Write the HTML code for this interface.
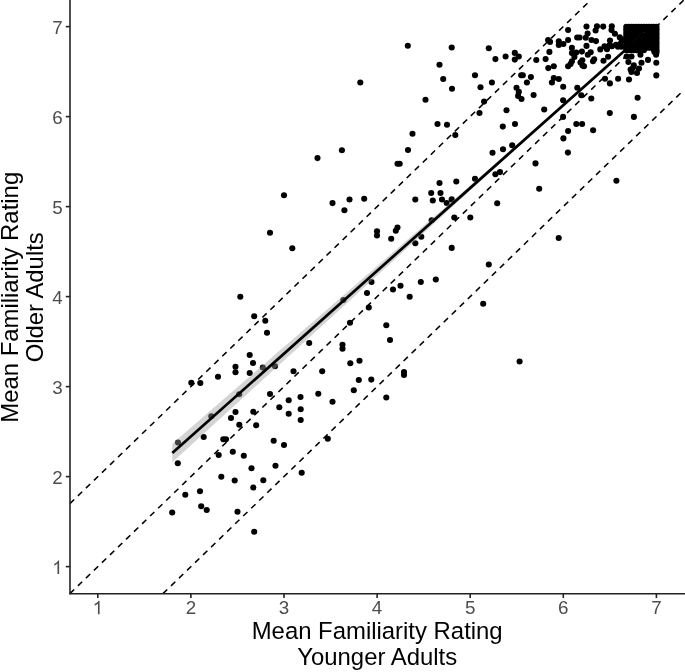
<!DOCTYPE html>
<html><head><meta charset="utf-8"><title>Scatter</title>
<style>
html,body{margin:0;padding:0;background:#fff;}
body{width:685px;height:672px;overflow:hidden;font-family:"Liberation Sans",sans-serif;}
svg{display:block;will-change:transform;}
.tk{font-family:"Liberation Sans",sans-serif;font-size:18.8px;fill:#4d4d4d;}
.tt{font-family:"Liberation Sans",sans-serif;font-size:23.9px;fill:#000;}
</style></head><body>
<svg width="685" height="672" viewBox="0 0 685 672">
<rect width="685" height="672" fill="#fff"/>

<g fill="#000">
<circle cx="178.0" cy="442.5" r="3.05"/>
<circle cx="211.3" cy="416.2" r="3.05"/>
<circle cx="177.8" cy="463.3" r="3.05"/>
<circle cx="203.7" cy="437.0" r="3.05"/>
<circle cx="223.3" cy="439.2" r="3.05"/>
<circle cx="226.0" cy="439.2" r="3.05"/>
<circle cx="235.5" cy="412.0" r="3.05"/>
<circle cx="231.0" cy="418.0" r="3.05"/>
<circle cx="253.3" cy="411.7" r="3.05"/>
<circle cx="239.3" cy="424.7" r="3.05"/>
<circle cx="256.2" cy="425.3" r="3.05"/>
<circle cx="218.7" cy="455.0" r="3.05"/>
<circle cx="232.8" cy="451.7" r="3.05"/>
<circle cx="243.8" cy="455.8" r="3.05"/>
<circle cx="251.5" cy="468.3" r="3.05"/>
<circle cx="221.3" cy="476.7" r="3.05"/>
<circle cx="234.7" cy="480.5" r="3.05"/>
<circle cx="253.3" cy="487.5" r="3.05"/>
<circle cx="263.3" cy="480.3" r="3.05"/>
<circle cx="200.0" cy="491.2" r="3.05"/>
<circle cx="185.3" cy="494.7" r="3.05"/>
<circle cx="201.2" cy="506.2" r="3.05"/>
<circle cx="206.7" cy="510.0" r="3.05"/>
<circle cx="172.2" cy="512.5" r="3.05"/>
<circle cx="237.5" cy="511.7" r="3.05"/>
<circle cx="254.2" cy="531.7" r="3.05"/>
<circle cx="270.0" cy="394.0" r="3.05"/>
<circle cx="279.3" cy="407.2" r="3.05"/>
<circle cx="288.7" cy="400.2" r="3.05"/>
<circle cx="288.7" cy="413.8" r="3.05"/>
<circle cx="300.5" cy="397.0" r="3.05"/>
<circle cx="300.7" cy="409.3" r="3.05"/>
<circle cx="300.7" cy="420.0" r="3.05"/>
<circle cx="318.3" cy="393.8" r="3.05"/>
<circle cx="332.5" cy="401.8" r="3.05"/>
<circle cx="353.8" cy="390.2" r="3.05"/>
<circle cx="358.8" cy="380.0" r="3.05"/>
<circle cx="327.8" cy="438.8" r="3.05"/>
<circle cx="273.7" cy="440.7" r="3.05"/>
<circle cx="284.0" cy="445.0" r="3.05"/>
<circle cx="275.5" cy="465.8" r="3.05"/>
<circle cx="301.7" cy="472.8" r="3.05"/>
<circle cx="240.3" cy="296.7" r="3.05"/>
<circle cx="254.2" cy="316.3" r="3.05"/>
<circle cx="265.3" cy="320.8" r="3.05"/>
<circle cx="267.0" cy="332.8" r="3.05"/>
<circle cx="249.7" cy="355.0" r="3.05"/>
<circle cx="253.0" cy="363.0" r="3.05"/>
<circle cx="235.5" cy="366.7" r="3.05"/>
<circle cx="235.5" cy="372.2" r="3.05"/>
<circle cx="249.7" cy="373.0" r="3.05"/>
<circle cx="262.8" cy="367.5" r="3.05"/>
<circle cx="275.0" cy="366.3" r="3.05"/>
<circle cx="218.0" cy="376.7" r="3.05"/>
<circle cx="200.3" cy="383.0" r="3.05"/>
<circle cx="191.3" cy="382.8" r="3.05"/>
<circle cx="293.5" cy="371.3" r="3.05"/>
<circle cx="239.2" cy="394.2" r="3.05"/>
<circle cx="341.9" cy="150.2" r="3.05"/>
<circle cx="317.5" cy="158.1" r="3.05"/>
<circle cx="284.0" cy="195.2" r="3.05"/>
<circle cx="332.5" cy="203.1" r="3.05"/>
<circle cx="349.5" cy="199.5" r="3.05"/>
<circle cx="344.4" cy="210.2" r="3.05"/>
<circle cx="270.0" cy="232.7" r="3.05"/>
<circle cx="292.3" cy="248.3" r="3.05"/>
<circle cx="371.5" cy="282.0" r="3.05"/>
<circle cx="343.3" cy="300.0" r="3.05"/>
<circle cx="367.0" cy="293.0" r="3.05"/>
<circle cx="368.8" cy="307.5" r="3.05"/>
<circle cx="393.0" cy="289.5" r="3.05"/>
<circle cx="400.5" cy="285.8" r="3.05"/>
<circle cx="350.0" cy="322.8" r="3.05"/>
<circle cx="386.3" cy="325.3" r="3.05"/>
<circle cx="390.0" cy="340.0" r="3.05"/>
<circle cx="309.2" cy="343.0" r="3.05"/>
<circle cx="342.5" cy="344.7" r="3.05"/>
<circle cx="342.5" cy="348.7" r="3.05"/>
<circle cx="359.5" cy="360.7" r="3.05"/>
<circle cx="350.3" cy="363.3" r="3.05"/>
<circle cx="322.2" cy="371.2" r="3.05"/>
<circle cx="371.3" cy="379.6" r="3.05"/>
<circle cx="404.0" cy="372.0" r="3.05"/>
<circle cx="404.0" cy="375.0" r="3.05"/>
<circle cx="386.3" cy="397.5" r="3.05"/>
<circle cx="364.2" cy="198.7" r="3.05"/>
<circle cx="415.3" cy="199.5" r="3.05"/>
<circle cx="439.5" cy="183.0" r="3.05"/>
<circle cx="456.3" cy="181.5" r="3.05"/>
<circle cx="431.2" cy="193.0" r="3.05"/>
<circle cx="440.5" cy="193.0" r="3.05"/>
<circle cx="432.8" cy="200.5" r="3.05"/>
<circle cx="442.0" cy="199.5" r="3.05"/>
<circle cx="446.7" cy="203.0" r="3.05"/>
<circle cx="451.7" cy="199.4" r="3.05"/>
<circle cx="454.3" cy="217.5" r="3.05"/>
<circle cx="431.7" cy="220.3" r="3.05"/>
<circle cx="397.5" cy="227.5" r="3.05"/>
<circle cx="395.8" cy="230.8" r="3.05"/>
<circle cx="377.0" cy="231.3" r="3.05"/>
<circle cx="377.0" cy="235.5" r="3.05"/>
<circle cx="391.2" cy="238.8" r="3.05"/>
<circle cx="421.3" cy="236.7" r="3.05"/>
<circle cx="415.3" cy="243.3" r="3.05"/>
<circle cx="451.7" cy="247.9" r="3.05"/>
<circle cx="420.8" cy="282.0" r="3.05"/>
<circle cx="435.8" cy="279.5" r="3.05"/>
<circle cx="488.8" cy="264.5" r="3.05"/>
<circle cx="409.7" cy="296.7" r="3.05"/>
<circle cx="483.2" cy="303.8" r="3.05"/>
<circle cx="492.5" cy="152.7" r="3.05"/>
<circle cx="503.0" cy="149.3" r="3.05"/>
<circle cx="535.5" cy="163.4" r="3.05"/>
<circle cx="475.0" cy="178.7" r="3.05"/>
<circle cx="495.4" cy="174.3" r="3.05"/>
<circle cx="500.0" cy="172.1" r="3.05"/>
<circle cx="539.2" cy="188.8" r="3.05"/>
<circle cx="497.2" cy="203.3" r="3.05"/>
<circle cx="470.3" cy="217.5" r="3.05"/>
<circle cx="558.7" cy="238.0" r="3.05"/>
<circle cx="407.8" cy="45.8" r="3.05"/>
<circle cx="451.7" cy="47.5" r="3.05"/>
<circle cx="488.8" cy="48.3" r="3.05"/>
<circle cx="439.5" cy="64.7" r="3.05"/>
<circle cx="443.2" cy="79.0" r="3.05"/>
<circle cx="452.0" cy="88.8" r="3.05"/>
<circle cx="475.0" cy="75.3" r="3.05"/>
<circle cx="480.5" cy="87.2" r="3.05"/>
<circle cx="491.9" cy="82.5" r="3.05"/>
<circle cx="425.5" cy="99.7" r="3.05"/>
<circle cx="484.1" cy="101.6" r="3.05"/>
<circle cx="479.5" cy="113.0" r="3.05"/>
<circle cx="437.5" cy="124.0" r="3.05"/>
<circle cx="447.0" cy="124.8" r="3.05"/>
<circle cx="412.5" cy="133.8" r="3.05"/>
<circle cx="455.3" cy="135.0" r="3.05"/>
<circle cx="360.3" cy="82.5" r="3.05"/>
<circle cx="408.0" cy="150.0" r="3.05"/>
<circle cx="397.5" cy="163.7" r="3.05"/>
<circle cx="399.7" cy="163.7" r="3.05"/>
<circle cx="506.5" cy="110.3" r="3.05"/>
<circle cx="518.8" cy="91.9" r="3.05"/>
<circle cx="518.1" cy="95.9" r="3.05"/>
<circle cx="521.5" cy="99.0" r="3.05"/>
<circle cx="533.6" cy="95.0" r="3.05"/>
<circle cx="544.2" cy="109.5" r="3.05"/>
<circle cx="502.8" cy="126.6" r="3.05"/>
<circle cx="515.0" cy="124.0" r="3.05"/>
<circle cx="512.2" cy="145.2" r="3.05"/>
<circle cx="495.4" cy="59.1" r="3.05"/>
<circle cx="505.6" cy="56.5" r="3.05"/>
<circle cx="514.8" cy="52.9" r="3.05"/>
<circle cx="518.8" cy="56.5" r="3.05"/>
<circle cx="514.8" cy="59.6" r="3.05"/>
<circle cx="536.3" cy="60.0" r="3.05"/>
<circle cx="545.6" cy="59.1" r="3.05"/>
<circle cx="549.4" cy="51.9" r="3.05"/>
<circle cx="548.1" cy="40.0" r="3.05"/>
<circle cx="550.0" cy="41.9" r="3.05"/>
<circle cx="548.3" cy="68.1" r="3.05"/>
<circle cx="553.8" cy="66.3" r="3.05"/>
<circle cx="521.2" cy="75.3" r="3.05"/>
<circle cx="522.8" cy="75.3" r="3.05"/>
<circle cx="530.9" cy="77.1" r="3.05"/>
<circle cx="526.9" cy="82.5" r="3.05"/>
<circle cx="516.5" cy="87.8" r="3.05"/>
<circle cx="558.8" cy="41.3" r="3.05"/>
<circle cx="558.8" cy="45.0" r="3.05"/>
<circle cx="563.4" cy="44.0" r="3.05"/>
<circle cx="568.1" cy="30.0" r="3.05"/>
<circle cx="568.1" cy="40.0" r="3.05"/>
<circle cx="577.2" cy="37.5" r="3.05"/>
<circle cx="579.6" cy="37.5" r="3.05"/>
<circle cx="586.5" cy="26.6" r="3.05"/>
<circle cx="587.6" cy="33.6" r="3.05"/>
<circle cx="585.7" cy="37.8" r="3.05"/>
<circle cx="591.5" cy="40.0" r="3.05"/>
<circle cx="596.0" cy="41.1" r="3.05"/>
<circle cx="586.5" cy="45.9" r="3.05"/>
<circle cx="597.0" cy="26.2" r="3.05"/>
<circle cx="595.6" cy="30.5" r="3.05"/>
<circle cx="603.2" cy="26.6" r="3.05"/>
<circle cx="611.8" cy="26.2" r="3.05"/>
<circle cx="611.5" cy="30.1" r="3.05"/>
<circle cx="614.9" cy="33.8" r="3.05"/>
<circle cx="619.8" cy="37.4" r="3.05"/>
<circle cx="571.9" cy="47.9" r="3.05"/>
<circle cx="571.9" cy="53.1" r="3.05"/>
<circle cx="576.3" cy="52.5" r="3.05"/>
<circle cx="581.9" cy="51.6" r="3.05"/>
<circle cx="574.4" cy="56.9" r="3.05"/>
<circle cx="590.7" cy="52.3" r="3.05"/>
<circle cx="587.8" cy="54.8" r="3.05"/>
<circle cx="571.9" cy="61.3" r="3.05"/>
<circle cx="568.1" cy="66.3" r="3.05"/>
<circle cx="570.6" cy="64.0" r="3.05"/>
<circle cx="582.3" cy="60.2" r="3.05"/>
<circle cx="580.5" cy="62.5" r="3.05"/>
<circle cx="584.0" cy="66.2" r="3.05"/>
<circle cx="594.2" cy="59.3" r="3.05"/>
<circle cx="593.0" cy="61.3" r="3.05"/>
<circle cx="603.5" cy="60.7" r="3.05"/>
<circle cx="608.1" cy="56.7" r="3.05"/>
<circle cx="600.3" cy="49.4" r="3.05"/>
<circle cx="604.5" cy="46.3" r="3.05"/>
<circle cx="610.0" cy="40.5" r="3.05"/>
<circle cx="607.0" cy="49.2" r="3.05"/>
<circle cx="609.5" cy="45.4" r="3.05"/>
<circle cx="612.0" cy="46.3" r="3.05"/>
<circle cx="616.0" cy="44.7" r="3.05"/>
<circle cx="620.3" cy="43.7" r="3.05"/>
<circle cx="622.0" cy="40.9" r="3.05"/>
<circle cx="553.8" cy="78.1" r="3.05"/>
<circle cx="558.8" cy="79.0" r="3.05"/>
<circle cx="551.9" cy="82.5" r="3.05"/>
<circle cx="563.2" cy="86.7" r="3.05"/>
<circle cx="577.3" cy="87.8" r="3.05"/>
<circle cx="605.0" cy="78.8" r="3.05"/>
<circle cx="609.9" cy="83.4" r="3.05"/>
<circle cx="618.1" cy="78.8" r="3.05"/>
<circle cx="582.5" cy="65.6" r="3.05"/>
<circle cx="640.4" cy="54.7" r="3.05"/>
<circle cx="656.1" cy="54.7" r="3.05"/>
<circle cx="648.0" cy="59.9" r="3.05"/>
<circle cx="641.5" cy="62.8" r="3.05"/>
<circle cx="656.3" cy="62.8" r="3.05"/>
<circle cx="631.5" cy="56.5" r="3.05"/>
<circle cx="626.6" cy="56.5" r="3.05"/>
<circle cx="628.4" cy="62.0" r="3.05"/>
<circle cx="633.8" cy="65.4" r="3.05"/>
<circle cx="630.6" cy="69.5" r="3.05"/>
<circle cx="639.0" cy="68.6" r="3.05"/>
<circle cx="637.0" cy="73.0" r="3.05"/>
<circle cx="631.5" cy="72.0" r="3.05"/>
<circle cx="632.9" cy="68.1" r="3.05"/>
<circle cx="656.3" cy="75.4" r="3.05"/>
<circle cx="563.1" cy="100.3" r="3.05"/>
<circle cx="581.3" cy="95.3" r="3.05"/>
<circle cx="591.3" cy="98.5" r="3.05"/>
<circle cx="563.1" cy="116.9" r="3.05"/>
<circle cx="576.3" cy="124.0" r="3.05"/>
<circle cx="582.1" cy="124.0" r="3.05"/>
<circle cx="568.1" cy="131.0" r="3.05"/>
<circle cx="593.1" cy="130.3" r="3.05"/>
<circle cx="563.4" cy="138.4" r="3.05"/>
<circle cx="609.8" cy="113.1" r="3.05"/>
<circle cx="629.0" cy="79.5" r="3.05"/>
<circle cx="637.6" cy="97.8" r="3.05"/>
<circle cx="633.9" cy="116.9" r="3.05"/>
<circle cx="616.4" cy="180.8" r="3.05"/>
<circle cx="567.9" cy="152.6" r="3.05"/>
<circle cx="519.6" cy="361.5" r="3.05"/>
<circle cx="621.5" cy="46.8" r="3.05"/>
<circle cx="618.0" cy="46.8" r="3.05"/>
<circle cx="624.0" cy="39.5" r="3.05"/>
<circle cx="626.3" cy="26.7" r="3.05"/>
<circle cx="626.3" cy="29.3" r="3.05"/>
<circle cx="626.3" cy="31.9" r="3.05"/>
<circle cx="626.3" cy="34.6" r="3.05"/>
<circle cx="626.3" cy="37.2" r="3.05"/>
<circle cx="626.3" cy="39.8" r="3.05"/>
<circle cx="626.3" cy="42.5" r="3.05"/>
<circle cx="626.3" cy="45.1" r="3.05"/>
<circle cx="626.3" cy="47.7" r="3.05"/>
<circle cx="628.8" cy="26.7" r="3.05"/>
<circle cx="628.8" cy="29.3" r="3.05"/>
<circle cx="628.8" cy="31.9" r="3.05"/>
<circle cx="628.8" cy="34.6" r="3.05"/>
<circle cx="628.8" cy="37.2" r="3.05"/>
<circle cx="628.8" cy="39.8" r="3.05"/>
<circle cx="628.8" cy="42.5" r="3.05"/>
<circle cx="628.8" cy="45.1" r="3.05"/>
<circle cx="628.8" cy="47.7" r="3.05"/>
<circle cx="631.3" cy="26.7" r="3.05"/>
<circle cx="631.3" cy="29.3" r="3.05"/>
<circle cx="631.3" cy="31.9" r="3.05"/>
<circle cx="631.3" cy="34.6" r="3.05"/>
<circle cx="631.3" cy="37.2" r="3.05"/>
<circle cx="631.3" cy="39.8" r="3.05"/>
<circle cx="631.3" cy="42.5" r="3.05"/>
<circle cx="631.3" cy="45.1" r="3.05"/>
<circle cx="631.3" cy="47.7" r="3.05"/>
<circle cx="633.8" cy="26.7" r="3.05"/>
<circle cx="633.8" cy="29.3" r="3.05"/>
<circle cx="633.8" cy="31.9" r="3.05"/>
<circle cx="633.8" cy="34.6" r="3.05"/>
<circle cx="633.8" cy="37.2" r="3.05"/>
<circle cx="633.8" cy="39.8" r="3.05"/>
<circle cx="633.8" cy="42.5" r="3.05"/>
<circle cx="633.8" cy="45.1" r="3.05"/>
<circle cx="633.8" cy="47.7" r="3.05"/>
<circle cx="636.4" cy="26.7" r="3.05"/>
<circle cx="636.4" cy="29.3" r="3.05"/>
<circle cx="636.4" cy="31.9" r="3.05"/>
<circle cx="636.4" cy="34.6" r="3.05"/>
<circle cx="636.4" cy="37.2" r="3.05"/>
<circle cx="636.4" cy="39.8" r="3.05"/>
<circle cx="636.4" cy="42.5" r="3.05"/>
<circle cx="636.4" cy="45.1" r="3.05"/>
<circle cx="636.4" cy="47.7" r="3.05"/>
<circle cx="638.9" cy="26.7" r="3.05"/>
<circle cx="638.9" cy="29.3" r="3.05"/>
<circle cx="638.9" cy="31.9" r="3.05"/>
<circle cx="638.9" cy="34.6" r="3.05"/>
<circle cx="638.9" cy="37.2" r="3.05"/>
<circle cx="638.9" cy="39.8" r="3.05"/>
<circle cx="638.9" cy="42.5" r="3.05"/>
<circle cx="638.9" cy="45.1" r="3.05"/>
<circle cx="638.9" cy="47.7" r="3.05"/>
<circle cx="641.4" cy="26.7" r="3.05"/>
<circle cx="641.4" cy="29.3" r="3.05"/>
<circle cx="641.4" cy="31.9" r="3.05"/>
<circle cx="641.4" cy="34.6" r="3.05"/>
<circle cx="641.4" cy="37.2" r="3.05"/>
<circle cx="641.4" cy="39.8" r="3.05"/>
<circle cx="641.4" cy="42.5" r="3.05"/>
<circle cx="641.4" cy="45.1" r="3.05"/>
<circle cx="641.4" cy="47.7" r="3.05"/>
<circle cx="643.9" cy="26.7" r="3.05"/>
<circle cx="643.9" cy="29.3" r="3.05"/>
<circle cx="643.9" cy="31.9" r="3.05"/>
<circle cx="643.9" cy="34.6" r="3.05"/>
<circle cx="643.9" cy="37.2" r="3.05"/>
<circle cx="643.9" cy="39.8" r="3.05"/>
<circle cx="643.9" cy="42.5" r="3.05"/>
<circle cx="643.9" cy="45.1" r="3.05"/>
<circle cx="643.9" cy="47.7" r="3.05"/>
<circle cx="646.4" cy="26.7" r="3.05"/>
<circle cx="646.4" cy="29.3" r="3.05"/>
<circle cx="646.4" cy="31.9" r="3.05"/>
<circle cx="646.4" cy="34.6" r="3.05"/>
<circle cx="646.4" cy="37.2" r="3.05"/>
<circle cx="646.4" cy="39.8" r="3.05"/>
<circle cx="646.4" cy="42.5" r="3.05"/>
<circle cx="646.4" cy="45.1" r="3.05"/>
<circle cx="646.4" cy="47.7" r="3.05"/>
<circle cx="649.0" cy="26.7" r="3.05"/>
<circle cx="649.0" cy="29.3" r="3.05"/>
<circle cx="649.0" cy="31.9" r="3.05"/>
<circle cx="649.0" cy="34.6" r="3.05"/>
<circle cx="649.0" cy="37.2" r="3.05"/>
<circle cx="649.0" cy="39.8" r="3.05"/>
<circle cx="649.0" cy="42.5" r="3.05"/>
<circle cx="649.0" cy="45.1" r="3.05"/>
<circle cx="649.0" cy="47.7" r="3.05"/>
<circle cx="651.5" cy="26.7" r="3.05"/>
<circle cx="651.5" cy="29.3" r="3.05"/>
<circle cx="651.5" cy="31.9" r="3.05"/>
<circle cx="651.5" cy="34.6" r="3.05"/>
<circle cx="651.5" cy="37.2" r="3.05"/>
<circle cx="651.5" cy="39.8" r="3.05"/>
<circle cx="651.5" cy="42.5" r="3.05"/>
<circle cx="651.5" cy="45.1" r="3.05"/>
<circle cx="651.5" cy="47.7" r="3.05"/>
<circle cx="654.0" cy="26.7" r="3.05"/>
<circle cx="654.0" cy="29.3" r="3.05"/>
<circle cx="654.0" cy="31.9" r="3.05"/>
<circle cx="654.0" cy="34.6" r="3.05"/>
<circle cx="654.0" cy="37.2" r="3.05"/>
<circle cx="654.0" cy="39.8" r="3.05"/>
<circle cx="654.0" cy="42.5" r="3.05"/>
<circle cx="654.0" cy="45.1" r="3.05"/>
<circle cx="654.0" cy="47.7" r="3.05"/>
<circle cx="656.5" cy="26.7" r="3.05"/>
<circle cx="656.5" cy="29.3" r="3.05"/>
<circle cx="656.5" cy="31.9" r="3.05"/>
<circle cx="656.5" cy="34.6" r="3.05"/>
<circle cx="656.5" cy="37.2" r="3.05"/>
<circle cx="656.5" cy="39.8" r="3.05"/>
<circle cx="656.5" cy="42.5" r="3.05"/>
<circle cx="656.5" cy="45.1" r="3.05"/>
<circle cx="656.5" cy="47.7" r="3.05"/>
<circle cx="626.3" cy="50.2" r="3.05"/>
<circle cx="628.8" cy="50.2" r="3.05"/>
<circle cx="631.3" cy="50.2" r="3.05"/>
<circle cx="633.8" cy="50.2" r="3.05"/>
<circle cx="636.4" cy="50.2" r="3.05"/>
<circle cx="638.9" cy="50.2" r="3.05"/>
<circle cx="641.4" cy="50.2" r="3.05"/>
<circle cx="643.9" cy="50.2" r="3.05"/>
<circle cx="654.0" cy="50.2" r="3.05"/>
<circle cx="656.5" cy="50.2" r="3.05"/>
<circle cx="656.5" cy="52.5" r="3.05"/>
<circle cx="654.5" cy="52.0" r="3.05"/>
</g>
<polygon points="172.3,443.7 184.1,433.5 195.9,423.2 207.7,413.0 219.5,402.8 231.3,392.5 243.1,382.3 254.9,372.1 266.7,361.9 278.5,351.6 290.3,341.4 302.1,331.2 313.9,320.9 325.7,310.7 337.5,300.5 349.3,290.2 361.1,280.0 372.9,269.8 384.7,259.6 396.5,249.3 408.2,239.1 420.0,228.9 431.8,218.6 443.6,208.4 455.4,198.2 467.2,187.9 479.0,177.7 490.8,167.4 502.6,157.2 514.4,146.9 526.2,136.7 538.0,126.4 549.8,116.1 561.6,105.8 573.4,95.4 585.2,84.9 597.0,74.3 608.8,63.7 620.6,53.0 632.4,42.3 644.2,31.6 644.2,34.8 632.4,45.1 620.6,55.4 608.8,65.7 597.0,76.0 585.2,86.5 573.4,97.0 561.6,107.6 549.8,118.2 538.0,128.9 526.2,139.6 514.4,150.4 502.6,161.1 490.8,171.8 479.0,182.6 467.2,193.3 455.4,204.1 443.6,214.8 431.8,225.6 420.0,236.4 408.2,247.1 396.5,257.9 384.7,268.6 372.9,279.4 361.1,290.1 349.3,300.9 337.5,311.7 325.7,322.4 313.9,333.2 302.1,343.9 290.3,354.7 278.5,365.5 266.7,376.2 254.9,387.0 243.1,397.7 231.3,408.5 219.5,419.3 207.7,430.0 195.9,440.8 184.1,451.6 172.3,462.3" fill="#999" fill-opacity="0.42"/>
<line x1="172.3" y1="453.0" x2="644.2" y2="33.2" stroke="#000" stroke-width="2.7"/>
<g stroke="#000" stroke-width="1.55" stroke-dasharray="5.93 5.225" fill="none">
<line x1="69.9" y1="503.6" x2="591.2" y2="-0.4"/>
<line x1="69.9" y1="593.6" x2="684.3" y2="-0.4"/>
<line x1="163.0" y1="593.6" x2="684.3" y2="89.6"/>
</g>
<g stroke="#222" stroke-width="1.6" fill="none">
<line x1="70" y1="0" x2="70" y2="594.3"/>
<line x1="69.35" y1="593.7" x2="685" y2="593.7"/>
<line x1="97.8" y1="593.7" x2="97.8" y2="598"/>
<line x1="65.8" y1="566.6" x2="70" y2="566.6"/>
<line x1="190.9" y1="593.7" x2="190.9" y2="598"/>
<line x1="65.8" y1="476.6" x2="70" y2="476.6"/>
<line x1="284.0" y1="593.7" x2="284.0" y2="598"/>
<line x1="65.8" y1="386.6" x2="70" y2="386.6"/>
<line x1="377.1" y1="593.7" x2="377.1" y2="598"/>
<line x1="65.8" y1="296.6" x2="70" y2="296.6"/>
<line x1="470.2" y1="593.7" x2="470.2" y2="598"/>
<line x1="65.8" y1="206.6" x2="70" y2="206.6"/>
<line x1="563.3" y1="593.7" x2="563.3" y2="598"/>
<line x1="65.8" y1="116.6" x2="70" y2="116.6"/>
<line x1="656.4" y1="593.7" x2="656.4" y2="598"/>
<line x1="65.8" y1="26.6" x2="70" y2="26.6"/>
</g>
<path d="M763 0H583V1147Q518 1085 412.5 1023T223 930V1104Q374 1175 487 1276T647 1472H763Z" fill="#4d4d4d" transform="translate(92.57,614.2) scale(0.00918,-0.00918)"/>
<path d="M763 0H583V1147Q518 1085 412.5 1023T223 930V1104Q374 1175 487 1276T647 1472H763Z" fill="#4d4d4d" transform="translate(52.14,574.1) scale(0.00918,-0.00918)"/>
<text class="tk" x="190.9" y="614.2" text-anchor="middle">2</text>
<text class="tk" x="62.6" y="484.1" text-anchor="end">2</text>
<text class="tk" x="284.0" y="614.2" text-anchor="middle">3</text>
<text class="tk" x="62.6" y="394.1" text-anchor="end">3</text>
<text class="tk" x="377.1" y="614.2" text-anchor="middle">4</text>
<text class="tk" x="62.6" y="304.1" text-anchor="end">4</text>
<text class="tk" x="470.2" y="614.2" text-anchor="middle">5</text>
<text class="tk" x="62.6" y="214.1" text-anchor="end">5</text>
<text class="tk" x="563.3" y="614.2" text-anchor="middle">6</text>
<text class="tk" x="62.6" y="124.1" text-anchor="end">6</text>
<text class="tk" x="656.4" y="614.2" text-anchor="middle">7</text>
<text class="tk" x="62.6" y="34.1" text-anchor="end">7</text>
<text class="tt" x="377.2" y="639.4" text-anchor="middle">Mean Familiarity Rating</text>
<text class="tt" x="377.2" y="665.2" text-anchor="middle">Younger Adults</text>
<text class="tt" transform="translate(17.8,297.3) rotate(-90)" text-anchor="middle">Mean Familiarity Rating</text>
<text class="tt" transform="translate(43.3,297.3) rotate(-90)" text-anchor="middle">Older Adults</text>
</svg></body></html>
